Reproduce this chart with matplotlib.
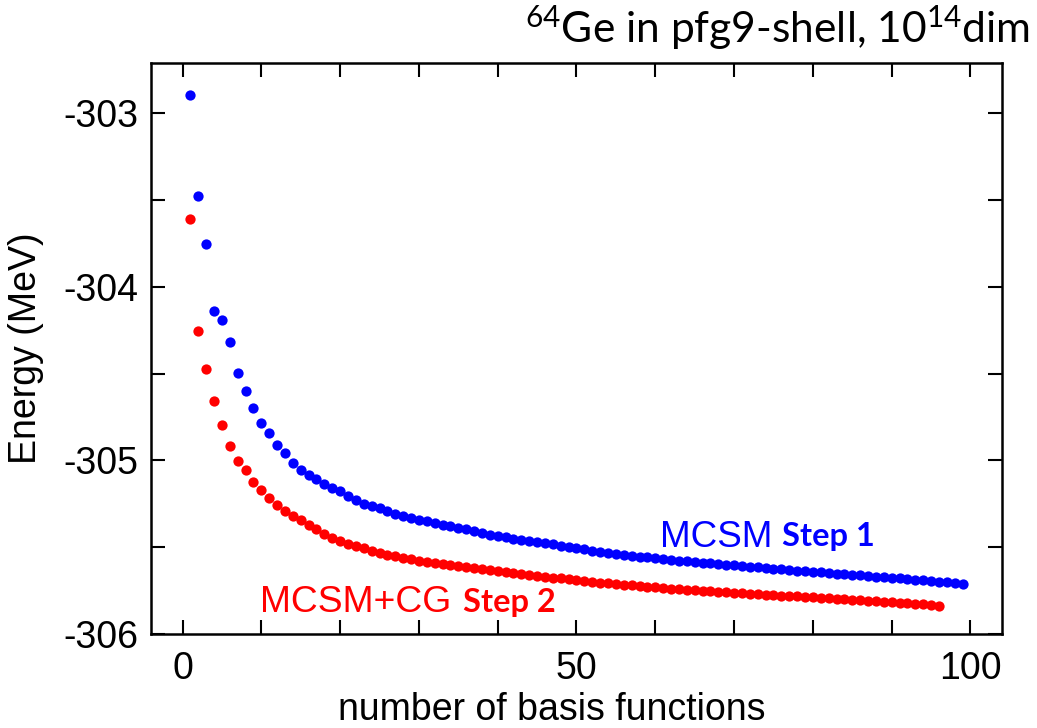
import matplotlib
matplotlib.use("Agg")
import matplotlib.pyplot as plt

# ---- data ----
n_step1 = list(range(1, 100))
e_step1 = [
    -302.894, -303.475, -303.754, -304.141, -304.194, -304.320, -304.497, -304.600, -304.699, -304.785,
    -304.845, -304.912, -304.956, -305.016, -305.053, -305.083, -305.110, -305.135, -305.160, -305.179,
    -305.207, -305.231, -305.250, -305.264, -305.276, -305.291, -305.308, -305.320, -305.330, -305.343,
    -305.352, -305.362, -305.370, -305.379, -305.388, -305.398, -305.407, -305.418, -305.430, -305.437,
    -305.444, -305.451, -305.457, -305.464, -305.470, -305.477, -305.484, -305.491, -305.498, -305.505,
    -305.513, -305.520, -305.526, -305.532, -305.538, -305.543, -305.549, -305.554, -305.559, -305.564,
    -305.568, -305.572, -305.577, -305.581, -305.585, -305.589, -305.593, -305.597, -305.601, -305.605,
    -305.609, -305.613, -305.617, -305.620, -305.624, -305.628, -305.631, -305.635, -305.638, -305.642,
    -305.645, -305.649, -305.652, -305.656, -305.659, -305.663, -305.666, -305.670, -305.673, -305.677,
    -305.680, -305.684, -305.687, -305.691, -305.694, -305.698, -305.701, -305.705, -305.710,
]
n_step2 = list(range(1, 97))
e_step2 = [
    -303.610, -304.256, -304.476, -304.660, -304.797, -304.918, -305.002, -305.053, -305.126, -305.172,
    -305.214, -305.258, -305.289, -305.320, -305.341, -305.372, -305.397, -305.422, -305.445, -305.466,
    -305.480, -305.494, -305.507, -305.520, -305.532, -305.543, -305.553, -305.562, -305.570, -305.578,
    -305.585, -305.592, -305.598, -305.604, -305.610, -305.616, -305.622, -305.628, -305.634, -305.640,
    -305.645, -305.650, -305.655, -305.660, -305.665, -305.670, -305.675, -305.680, -305.685, -305.690,
    -305.695, -305.700, -305.704, -305.708, -305.712, -305.716, -305.720, -305.724, -305.728, -305.732,
    -305.735, -305.738, -305.741, -305.744, -305.747, -305.750, -305.753, -305.756, -305.759, -305.762,
    -305.765, -305.768, -305.771, -305.774, -305.776, -305.779, -305.781, -305.784, -305.786, -305.789,
    -305.792, -305.795, -305.798, -305.801, -305.804, -305.806, -305.809, -305.812, -305.815, -305.818,
    -305.821, -305.824, -305.827, -305.830, -305.833, -305.837,
]
x_ticks = [0, 10, 20, 30, 40, 50, 60, 70, 80, 90, 100]
x_ticklabels = ["0", "", "", "", "", "50", "", "", "", "", "100"]
y_ticks = [-306, -305.5, -305, -304.5, -304, -303.5, -303]
y_ticklabels = ["-306", "", "-305", "", "-304", "", "-303"]

title_text = r"$\mathregular{^{64}}$Ge in pfg9-shell, 10$\mathregular{^{14}}$dim"
xlabel_text = "number of basis functions"
ylabel_text = "Energy (MeV)"

plt.rcParams["axes.unicode_minus"] = False
plt.rcParams["font.family"] = ["Liberation Sans", "DejaVu Sans"]

W, H = 1037, 728
fig = plt.figure(figsize=(W / 100, H / 100), dpi=100)
ax = fig.add_axes([151 / W, 1 - 634 / H, (1002 - 151) / W, (634 - 62.7) / H])

ax.plot(n_step1, e_step1, "o", color="#0000ff", ms=7.4, mec="none")
ax.plot(n_step2, e_step2, "o", color="#ff0000", ms=7.4, mec="none")

ax.set_xlim(-4, 104)
ax.set_ylim(-306, -302.71)
ax.set_xticks(x_ticks)
ax.set_xticklabels(x_ticklabels)
ax.set_yticks(y_ticks)
ax.set_yticklabels(y_ticklabels)
ax.tick_params(direction="in", top=True, right=True, length=10, width=1.5,
               labelsize=27, pad=9)
ax.tick_params(axis="x", pad=12)
for sp in ax.spines.values():
    sp.set_linewidth(1.8)

ax.set_xlabel(xlabel_text, fontsize=27)
ax.xaxis.set_label_coords((552 - 151) / (1002 - 151), -0.101)
ax.xaxis.label.set_va("top")
ax.set_ylabel(ylabel_text, fontsize=27, labelpad=14)

# annotations
fig.text(660 / W, 1 - 547 / H, "MCSM", color="#0000ff", fontsize=26.5,
         ha="left", va="baseline")
fig.text(782 / W, 1 - 546 / H, "Step 1", color="#0000ff", fontsize=23.5,
         fontweight="bold", family=["Lato", "DejaVu Sans"], ha="left", va="baseline")
fig.text(260 / W, 1 - 612 / H, "MCSM+CG", color="#ff0000", fontsize=26.8,
         ha="left", va="baseline")
fig.text(463 / W, 1 - 612 / H, "Step 2", color="#ff0000", fontsize=23.5,
         fontweight="bold", family=["Lato", "DejaVu Sans"], ha="left", va="baseline")

fig.text(1030 / W, 1 - 43 / H, title_text, fontsize=30.6,
         family=["Lato", "DejaVu Sans"], ha="right", va="baseline")

fig.savefig("out.png", dpi=100)
